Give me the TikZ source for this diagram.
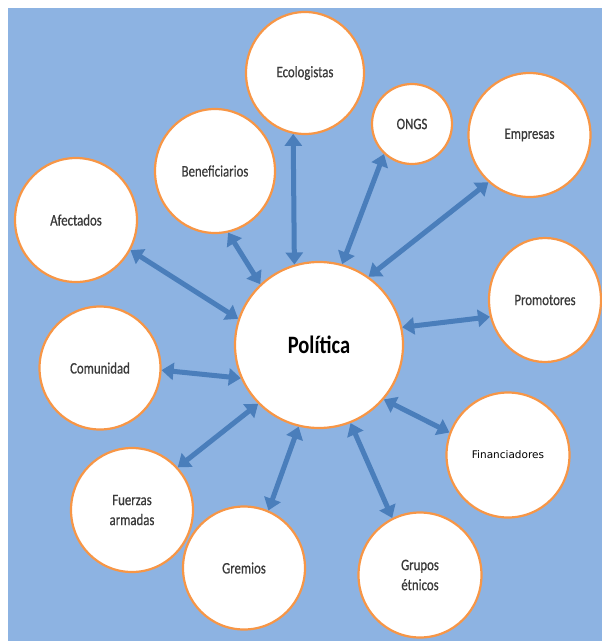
\documentclass[tikz,border=0pt]{standalone}
\usepackage{fontspec}
\newfontfamily\labfont{Carlito}[FakeStretch=0.8,FakeBold=0.6]
\newfontfamily\polfont{Carlito Bold}[FakeStretch=0.82]
\newfontfamily\finfont{DejaVu Sans}
\usetikzlibrary{shapes.geometric,arrows.meta}
\definecolor{bgblue}{HTML}{8DB3E2}
\definecolor{arrblue}{HTML}{4A7EBB}
\definecolor{ring}{HTML}{F79646}
\definecolor{txt}{HTML}{3A3A3A}
\begin{document}
\begin{tikzpicture}[x=1pt,y=-1pt,
  actor/.style={ellipse, draw=ring, line width=2.2pt, fill=white, inner sep=0pt,
    align=center, text=txt, font=\labfont\fontsize{16}{20}\selectfont},
  link/.style={draw=arrblue, line width=5pt,
    {Triangle[length=12pt,width=17pt]}-{Triangle[length=12pt,width=17pt]}}]
\useasboundingbox (0,0) rectangle (602,641);
\fill[bgblue] (8,8) rectangle (602,641);
\begin{scope}
\clip (8,8) rectangle (602,641);
\node[actor, minimum width=168pt, minimum height=166pt, text=black,
  font=\polfont\fontsize{25}{28}\selectfont] (pol) at (319,345) {Política};
\node[actor, minimum width=118pt, minimum height=122pt] (eco) at (305,73) {Ecologistas};
\node[actor, minimum width=80pt, minimum height=80pt] (ong) at (412,124) {ONGS};
\node[actor, minimum width=122pt, minimum height=124pt] (emp) at (529.5,135) {Empresas};
\node[actor, minimum width=120pt, minimum height=124pt] (ben) at (215,171) {Beneficiarios};
\node[actor, minimum width=122pt, minimum height=124pt] (afe) at (76,220) {Afectados};
\node[actor, minimum width=112pt, minimum height=124pt] (pro) at (545,300) {Promotores};
\node[actor, minimum width=121pt, minimum height=123pt] (com) at (100,368) {Comunidad};
\node[actor, minimum width=123pt, minimum height=125pt, text=black,
  font=\finfont\fontsize{10.5}{13}\selectfont] (fin) at (508,455) {Financiadores};
\node[actor, minimum width=122pt, minimum height=124pt] (fue) at (132,510) {Fuerzas\\armadas};
\node[actor, minimum width=122pt, minimum height=123pt] (gre) at (244,568) {Gremios};
\node[actor, minimum width=123pt, minimum height=125pt] (gru) at (420,575) {Grupos\\étnicos};
\end{scope}
\draw[link] (eco.259) -- (pol.107);
\draw[link] (ong.227) -- (pol.74);
\draw[link] (emp.229) -- (pol.54);
\draw[link] (pro.197) -- (pol.12);
\draw[link] (fin.159) -- (pol.-40);
\draw[link] (gru.116) -- (pol.-68);
\draw[link] (gre.67) -- (pol.256);
\draw[link] (fue.43) -- (pol.224);
\draw[link] (com.358) -- (pol.203);
\draw[link] (afe.331) -- (pol.162);
\draw[link] (ben.282) -- (pol.134);
\end{tikzpicture}
\end{document}
